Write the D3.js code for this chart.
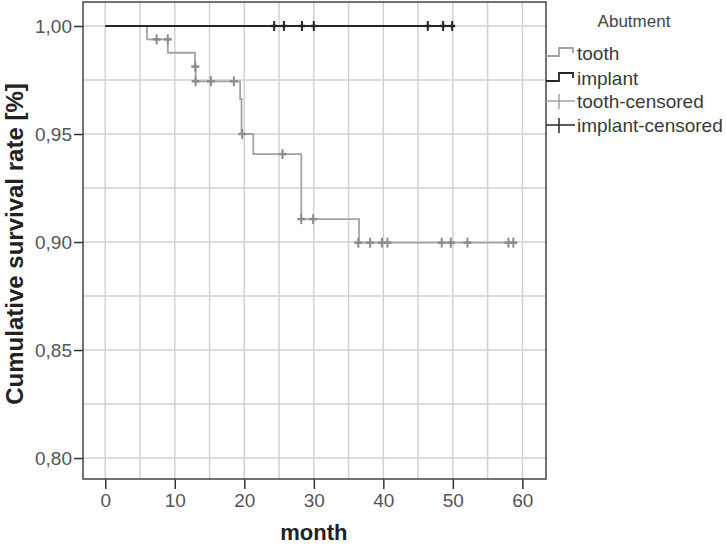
<!DOCTYPE html>
<html lang="en">
<head>
  <meta charset="UTF-8">
  <title>Cumulative survival rate by abutment</title>
  <script src="https://d3js.org/d3.v7.min.js"></script>
  <style>
    body { margin: 0; padding: 0; background: #fff; }
    svg { font-family: "Liberation Sans", Arial, sans-serif; display: block; }
  </style>
</head>
<body>
  <div id="chart"></div>
  <script>
    const width = 726;
    const height = 546;

    // Kaplan-Meier steps (month, survival)
    const toothTime = [0, 6.0, 9.0, 12.9, 13.0, 19.4, 19.6, 21.3, 28.2, 36.5, 58.7];
    const toothSurv = [1, 0.9938, 0.9876, 0.9812, 0.9744, 0.9662, 0.9500, 0.9407, 0.9106, 0.8997, 0.8997];
    const toothCensorTime = [7.4, 9.0, 12.95, 13.0, 15.2, 18.5, 19.7, 25.5, 28.2, 29.9, 36.4, 38.1, 39.8, 40.6, 48.4, 49.7, 52.1, 58.0, 58.7];
    const toothCensorSurv = [0.9938, 0.9938, 0.9812, 0.9744, 0.9744, 0.9744, 0.95, 0.9407, 0.9106, 0.9106, 0.8997, 0.8997, 0.8997, 0.8997, 0.8997, 0.8997, 0.8997, 0.8997, 0.8997];

    const implantTime = [0, 49.9];
    const implantSurv = [1, 1];
    const implantCensorTime = [24.3, 25.7, 28.3, 30.0, 46.4, 48.6, 49.9];

    const xTicks = [0, 10, 20, 30, 40, 50, 60];
    const yTicks = [0.80, 0.85, 0.90, 0.95, 1.00];
    const legendLabels = ["tooth", "implant", "tooth-censored", "implant-censored"];

    const toothColor = "#a3a3a3";
    const toothMark = "#8c8c8c";
    const implantColor = "#262626";

    const pLeft = 83, pRight = 546, pTop = 2, pBottom = 479;

    const x = d3.scaleLinear().domain([-3.2, 63.4]).range([pLeft, pRight]);
    const y = d3.scaleLinear().domain([0.7903, 1.0111]).range([pBottom, pTop]);

    const svg = d3.select("#chart").append("svg")
      .attr("width", width)
      .attr("height", height);

    // grid
    svg.append("g").selectAll("line")
      .data(d3.range(0, 61, 5))
      .join("line")
      .attr("x1", d => x(d)).attr("x2", d => x(d))
      .attr("y1", pTop).attr("y2", pBottom)
      .attr("stroke", "#d2d2d2").attr("stroke-width", 1.5);

    svg.append("g").selectAll("line")
      .data(d3.range(0, 9).map(i => 0.80 + i * 0.025))
      .join("line")
      .attr("x1", pLeft).attr("x2", pRight)
      .attr("y1", d => y(d)).attr("y2", d => y(d))
      .attr("stroke", "#d2d2d2").attr("stroke-width", 1.5);

    // axes
    const xAxis = svg.append("g")
      .attr("transform", `translate(0,${pBottom})`)
      .call(d3.axisBottom(x).tickValues(xTicks).tickSize(10).tickPadding(5));
    const yAxis = svg.append("g")
      .attr("transform", `translate(${pLeft},0)`)
      .call(d3.axisLeft(y).tickValues(yTicks).tickSize(9).tickPadding(2)
        .tickFormat(d => d3.format(".2f")(d).replace(".", ",")));

    [xAxis, yAxis].forEach(a => {
      a.select(".domain").remove();
      a.selectAll(".tick line").attr("stroke", "#333").attr("stroke-width", 1.5);
      a.selectAll(".tick text").attr("fill", "#555").style("font-size", "19px");
    });

    // frame
    svg.append("rect")
      .attr("x", pLeft).attr("y", pTop)
      .attr("width", pRight - pLeft).attr("height", pBottom - pTop)
      .attr("fill", "none").attr("stroke", "#444").attr("stroke-width", 1.5);

    const step = d3.line().curve(d3.curveStepAfter)
      .x(d => x(d[0])).y(d => y(d[1]));

    svg.append("path")
      .datum(d3.zip(toothTime, toothSurv))
      .attr("d", step)
      .attr("fill", "none").attr("stroke", toothColor).attr("stroke-width", 1.8);

    svg.append("path")
      .datum(d3.zip(implantTime, implantSurv))
      .attr("d", step)
      .attr("fill", "none").attr("stroke", implantColor).attr("stroke-width", 1.8);

    // censor marks
    function cross(g, data, color, hw) {
      const m = g.selectAll("g").data(data).join("g")
        .attr("transform", d => `translate(${x(d[0])},${y(d[1])})`);
      m.append("line").attr("x1", 0).attr("x2", 0).attr("y1", -5).attr("y2", 5)
        .attr("stroke", color).attr("stroke-width", 2);
      m.append("line").attr("x1", -hw).attr("x2", hw).attr("y1", 0).attr("y2", 0)
        .attr("stroke", color).attr("stroke-width", 2.5);
    }
    cross(svg.append("g"), d3.zip(toothCensorTime, toothCensorSurv), toothMark, 4);
    cross(svg.append("g"), implantCensorTime.map(t => [t, 1]), implantColor, 3);

    // axis titles
    svg.append("text")
      .attr("x", (x(0) + x(60)) / 2).attr("y", 540)
      .attr("text-anchor", "middle")
      .style("font-size", "22px").style("font-weight", "bold")
      .attr("fill", "#222")
      .text("month");

    svg.append("text")
      .attr("transform", `translate(23,${244}) rotate(-90)`)
      .attr("text-anchor", "middle")
      .style("font-size", "24px").style("font-weight", "bold")
      .attr("fill", "#222")
      .text("Cumulative survival rate [%]");

    // legend
    const lg = svg.append("g");
    lg.append("text")
      .attr("x", 634).attr("y", 27)
      .attr("text-anchor", "middle")
      .style("font-size", "17px").attr("fill", "#444")
      .text("Abutment");

    const rowY = [53, 78, 101, 125];
    const legColors = [toothColor, implantColor, toothColor, implantColor];
    legendLabels.forEach((lab, i) => {
      const cy = rowY[i];
      if (i < 2) {
        lg.append("path")
          .attr("d", `M546,${cy + 3}H559V${cy - 5}H573V${cy}`)
          .attr("fill", "none").attr("stroke", legColors[i]).attr("stroke-width", 1.8);
      } else {
        lg.append("line").attr("x1", 546).attr("x2", 575).attr("y1", cy).attr("y2", cy)
          .attr("stroke", legColors[i]).attr("stroke-width", 1.5);
        lg.append("line").attr("x1", 559).attr("x2", 559).attr("y1", cy - 7).attr("y2", cy + 8)
          .attr("stroke", legColors[i]).attr("stroke-width", 1.5);
      }
      lg.append("text")
        .attr("x", 577).attr("y", cy + 7)
        .style("font-size", "19px").attr("fill", "#3a3a3a")
        .text(lab);
    });
  </script>
</body>
</html>
